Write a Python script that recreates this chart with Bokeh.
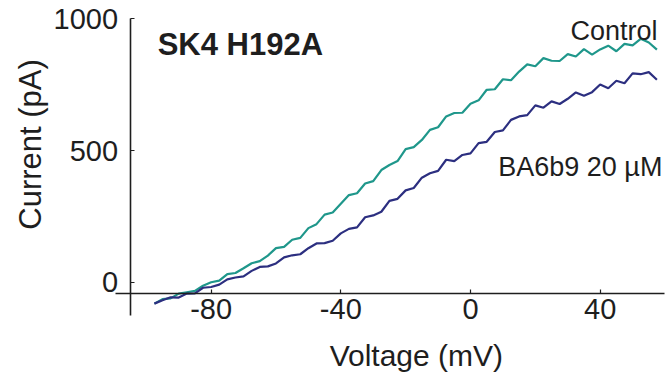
from math import pi
from bokeh.plotting import figure
from bokeh.models import LinearAxis, FixedTicker, Range1d, Label
from bokeh.embed import file_html
from bokeh.resources import INLINE

# ---- data ----
voltage_mV = [-97.5, -95, -92.5, -90, -87.5, -85, -82.5, -80, -77.5, -75, -72.5, -70,
              -67.5, -65, -62.5, -60, -57.5, -55, -52.5, -50, -47.5, -45, -42.5, -40,
              -37.5, -35, -32.5, -30, -27.5, -25, -22.5, -20, -17.5, -15, -12.5, -10,
              -7.5, -5, -2.5, 0, 2.5, 5, 7.5, 10, 12.5, 15, 17.5, 20, 22.5, 25, 27.5,
              30, 32.5, 35, 37.5, 40, 42.5, 45, 47.5, 50, 52.5, 55, 57.5]

control_pA = [-80, -63, -60, -42, -37, -32, -12, 1, 7, 32, 36, 54,
              73, 81, 102, 130, 135, 162, 169, 206, 221, 257, 265, 298,
              331, 338, 375, 384, 426, 445, 460, 505, 513, 540, 578, 588,
              629, 642, 643, 677, 690, 730, 732, 770, 766, 799, 826, 819, 850, 840, 839,
              865, 856, 884, 863, 883, 897, 876, 904, 898, 923, 909, 882]

ba6b9_pA = [-80, -67, -56, -57, -42, -41, -20, -17, -8, 12, 19, 23,
            44, 59, 61, 72, 95, 103, 107, 130, 148, 149, 158, 186,
            203, 209, 247, 254, 268, 309, 317, 349, 358, 397, 414, 423,
            465, 460, 483, 489, 528, 533, 570, 576, 616, 629, 634, 671, 662, 686, 676,
            696, 720, 707, 721, 750, 736, 764, 755, 792, 789, 797, 768]

x_ticks = [-80, -40, 0, 40]
x_tick_labels = ["-80", "-40", "0", "40"]
y_ticks = [0, 500, 1000]
y_tick_labels = ["0", "500", "1000"]

title_text = "SK4 H192A"
series_names = ["Control", "BA6b9 20 µM"]
x_label = "Voltage (mV)"
y_label = "Current (pA)"

# ---- figure ----
FONT = "Liberation Sans"
INK = "#1e1e1e"

p = figure(width=666, height=374,
           x_range=Range1d(-144.97, 60.46), y_range=Range1d(-348.5, 1068.2),
           output_backend="svg", toolbar_location=None,
           x_axis_location=None, y_axis_location=None,
           min_border_left=0, min_border_right=0,
           min_border_top=0, min_border_bottom=0)
p.grid.visible = False
p.outline_line_color = None
p.background_fill_color = "white"
p.border_fill_color = "white"

xaxis = LinearAxis(fixed_location=-42, bounds=(-109.5, 59.8),
                   ticker=FixedTicker(ticks=x_ticks),
                   major_label_overrides=dict(zip(x_ticks, x_tick_labels)))
yaxis = LinearAxis(fixed_location=-105, bounds=(-125, 1000),
                   ticker=FixedTicker(ticks=y_ticks),
                   major_label_overrides=dict(zip(y_ticks, y_tick_labels)))
for ax in (xaxis, yaxis):
    ax.axis_line_color = INK
    ax.axis_line_width = 1.6
    ax.major_tick_line_color = INK
    ax.major_tick_line_width = 1.2
    ax.major_tick_in = 4
    ax.major_tick_out = 0
    ax.minor_tick_line_color = None
    ax.major_label_text_font = FONT
    ax.major_label_text_font_size = "29px"
    ax.major_label_text_color = INK
xaxis.major_label_standoff = 5
yaxis.major_label_standoff = 12
p.add_layout(xaxis, "below")
p.add_layout(yaxis, "left")

p.line(voltage_mV, control_pA, line_color="#1f978b", line_width=2.2)
p.line(voltage_mV, ba6b9_pA, line_color="#2c2f80", line_width=2.2)

p.add_layout(Label(x=-96.5, y=901, text=title_text, text_font=FONT,
                   text_font_style="bold", text_font_size="31px",
                   text_color=INK, text_align="left", text_baseline="alphabetic"))
p.add_layout(Label(x=57.7, y=951, text=series_names[0], text_font=FONT,
                   text_font_size="27px", text_color=INK,
                   text_align="right", text_baseline="alphabetic"))
p.add_layout(Label(x=59.2, y=436, text=series_names[1], text_font=FONT,
                   text_font_size="27px", text_color=INK,
                   text_align="right", text_baseline="alphabetic"))
p.add_layout(Label(x=-16.7, y=-276, text=x_label, text_font=FONT,
                   text_font_size="30px", text_color=INK,
                   text_align="center", text_baseline="middle"))
p.add_layout(Label(x=-135.7, y=523, text=y_label, text_font=FONT,
                   text_font_size="31px", text_color=INK, angle=pi / 2,
                   text_align="center", text_baseline="middle"))

open("out.html", "w").write(file_html(p, INLINE))
